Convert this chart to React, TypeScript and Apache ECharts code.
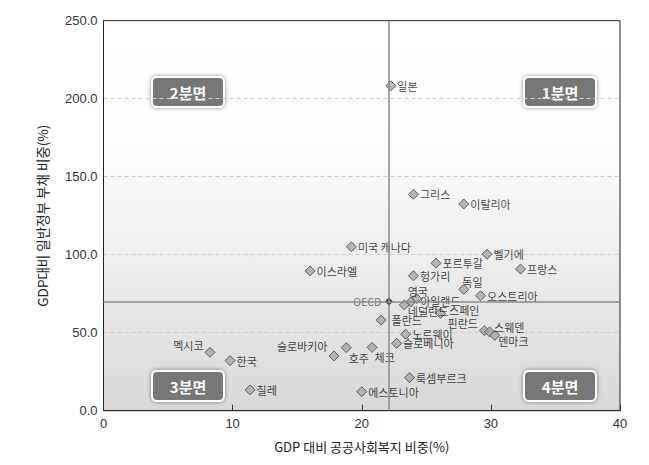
import React, { useEffect, useRef } from "react";
import * as echarts from "echarts";

const countries = ["일본", "그리스", "이탈리아", "미국 캐나다", "이스라엘", "포르투갈", "벨기에", "프랑스", "헝가리", "독일", "오스트리아", "아일랜드", "영국", "네덜란드", "스페인", "폴란드", "핀란드", "스웨덴", "덴마크", "노르웨이", "슬로베니아", "체코", "호주", "슬로바키아", "룩셈부르크", "에스토니아", "멕시코", "한국", "칠레"];
const socialSpending = [22.25, 24.0, 27.9, 19.2, 16.0, 25.75, 29.7, 32.3, 24.0, 27.9, 29.2, 24.25, 23.8, 23.3, 26.1, 21.5, 29.5, 29.9, 30.3, 23.4, 22.7, 20.8, 18.8, 17.85, 23.7, 20.0, 8.25, 9.8, 11.35];
const governmentDebt = [208.3, 138.7, 132.5, 105.1, 89.6, 94.5, 100.3, 90.8, 86.5, 77.8, 73.7, 71.9, 69.7, 67.8, 62.4, 58.1, 51.3, 50.5, 48.3, 49.0, 43.2, 40.6, 40.4, 35.1, 21.2, 12.2, 37.4, 32.1, 13.3];
const oecdName = "OECD";
const oecdAverage = [22.1, 70.0];
const xTicks = [0, 10, 20, 30, 40];
const yTicks = [0, 50, 100, 150, 200, 250];
const quadrantLabels = ["1분면", "2분면", "3분면", "4분면"];
const xTitle = "GDP 대비 공공사회복지 비중(%)";
const yTitle = "GDP대비 일반정부 부채 비중(%)";

// label placement (style only)
const labelPlacement: Record<string, { position: string; offset: [number, number] }> = {
  "멕시코": { position: "left", offset: [0, -7] },
  "슬로바키아": { position: "left", offset: [0, -10] },
  "호주": { position: "right", offset: [-4, 10] },
  "체코": { position: "right", offset: [-4, 10] },
  "영국": { position: "top", offset: [7, 1] },
  "독일": { position: "right", offset: [-8, -7] },
  "네덜란드": { position: "right", offset: [-3, 6] },
  "아일랜드": { position: "right", offset: [-3, 2] },
  "스페인": { position: "right", offset: [2, -3] },
  "핀란드": { position: "left", offset: [0, -8] },
  "스웨덴": { position: "right", offset: [-2, -5] },
  "덴마크": { position: "right", offset: [-3, 6] },
  "폴란드": { position: "right", offset: [4, 0] },
};

const quadrantBoxes = [
  { x: 524, y: 77 },
  { x: 152, y: 77 },
  { x: 152, y: 371 },
  { x: 524, y: 371 },
];

const FONT = "'Noto Sans CJK KR', 'Liberation Sans', sans-serif";

export default function App() {
  const ref = useRef<HTMLDivElement>(null);
  useEffect(() => {
    if (!ref.current) return;
    const chart = echarts.init(ref.current, undefined, { renderer: "svg" });
    const data = countries.map((name, i) => {
      const p = labelPlacement[name];
      return {
        name,
        value: [socialSpending[i], governmentDebt[i]],
        label: p ? { position: p.position, offset: p.offset } : undefined,
      };
    });
    const option: any = {
      animation: false,
      backgroundColor: "#fff",
      textStyle: { fontFamily: FONT },
      grid: {
        left: 103.5,
        right: 29,
        top: 20.7,
        bottom: 54.3,
        show: true,
        borderColor: "#222",
        borderWidth: 1,
        backgroundColor: new echarts.graphic.LinearGradient(0, 0, 0, 1, [
          { offset: 0, color: "#ffffff" },
          { offset: 0.35, color: "#fcfcfc" },
          { offset: 1, color: "#d8d8d8" },
        ]),
      },
      xAxis: {
        type: "value",
        min: xTicks[0],
        max: xTicks[xTicks.length - 1],
        interval: 10,
        name: xTitle,
        nameLocation: "middle",
        nameGap: 29,
        nameTextStyle: { fontSize: 13, color: "#222", fontFamily: FONT },
        axisLine: { show: true, lineStyle: { color: "#222", width: 1 } },
        axisTick: { show: true, inside: true, length: 6, lineStyle: { color: "#333" } },
        axisLabel: { fontSize: 13, color: "#333", margin: 6, fontFamily: "'Liberation Sans', sans-serif" },
        splitLine: { show: false },
      },
      yAxis: {
        type: "value",
        min: yTicks[0],
        max: yTicks[yTicks.length - 1],
        interval: 50,
        name: yTitle,
        nameLocation: "middle",
        nameGap: 55,
        nameTextStyle: { fontSize: 13.5, color: "#222", fontFamily: FONT },
        axisLine: { show: true, lineStyle: { color: "#222", width: 1 } },
        axisTick: { show: false },
        axisLabel: {
          fontSize: 13,
          color: "#333",
          margin: 6,
          fontFamily: "'Liberation Sans', sans-serif",
          formatter: (v: number) => v.toFixed(1),
        },
        splitLine: {
          show: true,
          showMinLine: false,
          showMaxLine: false,
          lineStyle: { color: "#cfcfcf", type: [4, 3], width: 1 },
        },
      },
      series: [
        {
          type: "scatter",
          symbol: "diamond",
          symbolSize: 10,
          itemStyle: { color: "#a6a6a6", borderColor: "#444", borderWidth: 1 },
          label: {
            show: true,
            position: "right",
            distance: 1,
            formatter: "{b}",
            fontSize: 11,
            color: "#111",
            fontFamily: FONT,
          },
          data,
          markLine: {
            silent: true,
            symbol: "none",
            label: { show: false },
            lineStyle: { color: "#8a8a8a", width: 1.5, type: "solid" },
            data: [{ xAxis: oecdAverage[0] }, { yAxis: oecdAverage[1] }],
          },
          z: 3,
        },
        {
          type: "scatter",
          symbol: "diamond",
          symbolSize: 10,
          itemStyle: { color: "#111", borderColor: "#fff", borderWidth: 1.2 },
          label: {
            show: true,
            position: "left",
            distance: 2,
            formatter: "{b}",
            fontSize: 10.5,
            color: "#555",
            fontFamily: FONT,
          },
          data: [{ name: oecdName, value: oecdAverage }],
          z: 4,
        },
      ],
      graphic: quadrantBoxes.map((b, i) => ({
        type: "group",
        x: b.x,
        y: b.y,
        z: 10,
        children: [
          {
            type: "rect",
            shape: { x: 0, y: 0, width: 72, height: 30, r: 5 },
            style: {
              fill: "#777",
              stroke: "#fff",
              lineWidth: 2,
              shadowBlur: 4,
              shadowColor: "rgba(0,0,0,0.45)",
            },
          },
          {
            type: "text",
            x: 36,
            y: 15,
            style: {
              text: quadrantLabels[i],
              fill: "#fff",
              fontSize: 15,
              fontWeight: "bold",
              fontFamily: FONT,
              align: "center",
              verticalAlign: "middle",
            },
          },
        ],
      })),
    };
    chart.setOption(option);
    return () => chart.dispose();
  }, []);
  return (
    <div
      ref={ref}
      style={{ position: "fixed", left: 0, top: 0, width: 649, height: 465 }}
    />
  );
}
